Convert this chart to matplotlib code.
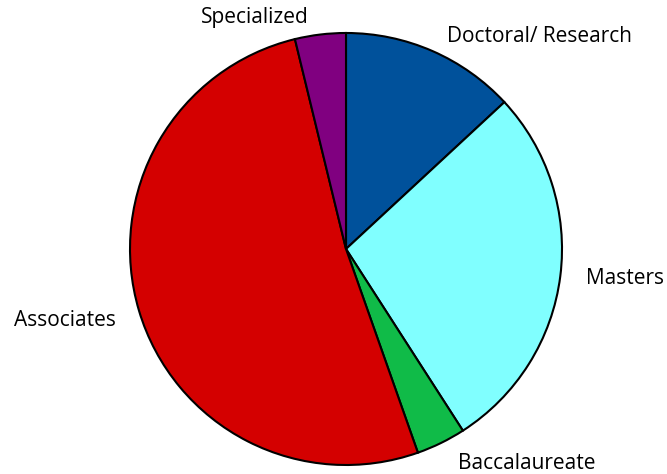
import matplotlib
matplotlib.use("Agg")
import matplotlib.pyplot as plt

categories = ["Doctoral/ Research", "Masters", "Baccalaureate", "Associates", "Specialized"]
shares = [13.1, 27.8, 3.7, 51.6, 3.8]
colors = ["#00519b", "#80ffff", "#10bb48", "#d40000", "#800080"]

# where each label sits (in pie radius units)
label_xy = [(0.898, 0.986), (1.290, -0.135), (0.838, -0.991), (-1.300, -0.330), (-0.423, 1.074)]

plt.rcParams['font.family'] = ['Open Sans', 'DejaVu Sans']

fig = plt.figure(figsize=(6.67, 4.74), dpi=100)
ax = fig.add_axes([0.1949, 0.019, 0.6477, 0.9114])
wedges, _ = ax.pie(shares, colors=colors, startangle=90, counterclock=False, radius=1,
                   wedgeprops=dict(edgecolor="black", linewidth=1.5))
for w in wedges:
    w.set_clip_on(False)
ax.set_xlim(-1.0, 1.0)
ax.set_ylim(-1.0, 1.0)
ax.set_aspect("equal")
ax.axis("off")

for name, (x, y) in zip(categories, label_xy):
    ax.text(x, y, name, ha="center", va="center", fontsize=15, color="black")

fig.savefig("out.png", dpi=100)
